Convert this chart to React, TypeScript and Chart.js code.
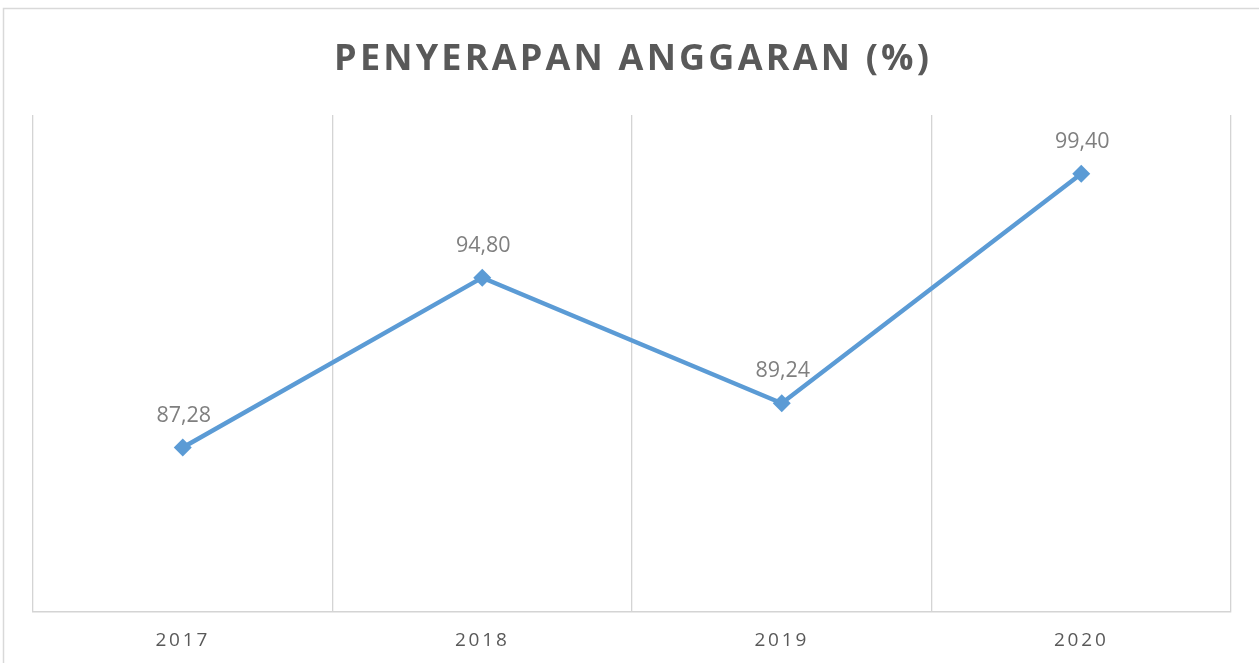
import React, { useEffect, useRef } from "react";
import { Chart, registerables } from "chart.js";

Chart.register(...registerables);

const TITLE = "PENYERAPAN ANGGARAN (%)";
const years = ["2017", "2018", "2019", "2020"];
const absorption = [87.28, 94.8, 89.24, 99.4];
const Y_MIN = 80;
const Y_MAX = 102;

const FONT = "'Open Sans', 'DejaVu Sans', sans-serif";

const decorPlugin = {
  id: "decor",
  beforeDraw(chart: any) {
    const ctx = chart.ctx;
    ctx.save();
    ctx.strokeStyle = "#d9d9d9";
    ctx.lineWidth = 1.5;
    ctx.strokeRect(3.5, 8.5, 1400, 800);
    ctx.restore();
    ctx.letterSpacing = "2.8px";
  },
  afterDatasetsDraw(chart: any) {
    const ctx = chart.ctx;
    const meta = chart.getDatasetMeta(0);
    ctx.save();
    ctx.letterSpacing = "0px";
    ctx.font = `21.5px ${FONT}`;
    ctx.fillStyle = "#7f7f7f";
    ctx.textAlign = "center";
    ctx.textBaseline = "alphabetic";
    meta.data.forEach((pt: any, i: number) => {
      const txt = absorption[i].toFixed(2).replace(".", ",");
      ctx.fillText(txt, pt.x + 1, pt.y - 26);
    });
    ctx.restore();
  },
  afterDraw(chart: any) {
    const ctx = chart.ctx;
    ctx.save();
    const spacing = 3.2;
    ctx.letterSpacing = `${spacing}px`;
    ctx.font = `bold 36px ${FONT}`;
    ctx.fillStyle = "#595959";
    ctx.textAlign = "left";
    ctx.textBaseline = "alphabetic";
    const w = ctx.measureText(TITLE).width - spacing;
    ctx.fillText(TITLE, 631.5 - w / 2, 70);
    ctx.restore();
    ctx.letterSpacing = "0px";
  },
};

export default function App() {
  const ref = useRef<HTMLCanvasElement | null>(null);
  useEffect(() => {
    if (!ref.current) return;
    const chart = new Chart(ref.current, {
      type: "line",
      data: {
        labels: years,
        datasets: [
          {
            data: absorption,
            borderColor: "#5b9bd5",
            backgroundColor: "#5b9bd5",
            borderWidth: 4.5,
            pointStyle: "rectRot",
            pointRadius: 9,
            pointBorderWidth: 0,
            tension: 0,
            clip: false as any,
          },
        ],
      },
      options: {
        animation: false,
        responsive: true,
        maintainAspectRatio: false,
        layout: { padding: { top: 115, left: 33, right: 28, bottom: 0 } },
        plugins: {
          legend: { display: false },
          title: { display: false },
          tooltip: { enabled: false },
        },
        scales: {
          x: {
            offset: true,
            afterFit(scale: any) {
              scale.height = 51;
            },
            grid: {
              offset: true,
              color: "#d4d4d4",
              lineWidth: 1.3,
              drawTicks: false,
            },
            border: { color: "#d4d4d4", width: 1.5 },
            ticks: {
              color: "#595959",
              font: { family: FONT, size: 19 },
              padding: 17,
            },
          },
          y: {
            display: false,
            min: Y_MIN,
            max: Y_MAX,
          },
        },
      },
      plugins: [decorPlugin],
    });
    return () => chart.destroy();
  }, []);
  return (
    <div style={{ position: "fixed", left: 0, top: 0, width: 1259, height: 663, background: "#fff" }}>
      <canvas ref={ref} />
    </div>
  );
}
